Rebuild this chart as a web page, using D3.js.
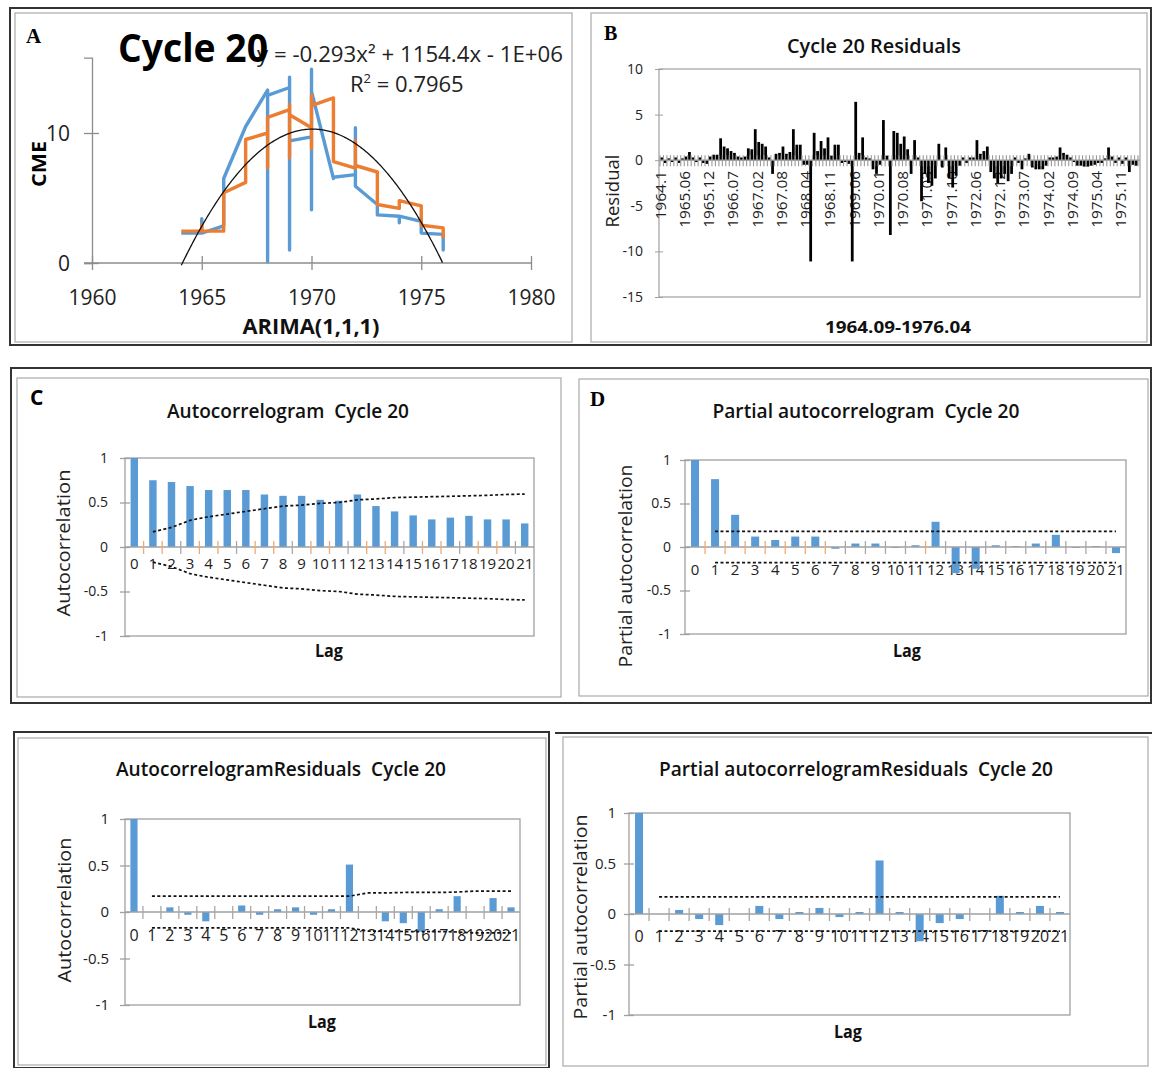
<!DOCTYPE html>
<html><head><meta charset="utf-8">
<script src="https://cdn.jsdelivr.net/npm/d3@7"></script>
<style>body{margin:0;background:#fff}svg{display:block}</style>
</head><body><script>
// ---------- DATA ----------
// Panel A : CME (observed, blue) and ARIMA(1,1,1) fit (orange), x = year
const obsX = [1964.07,1965,1965,1965,1965.9,1966,1966,1967,1968,1968,1968,1969,1969,1969,1969,1970,1970,1970,1970,1971,1971,1972,1972,1972,1973,1973,1974,1974,1974,1975,1975,1976,1976,1976];
const obsY = [2.3,2.3,3.4,2.3,2.8,2.9,6.5,10.5,13.3,0.1,12.9,13.5,14.3,1.0,9.4,9.7,14.9,4.1,13.2,6.5,6.6,6.8,10.4,5.9,4.5,3.7,3.6,3.1,3.6,3.2,2.3,2.2,1.0,1.5];
const fitX = [1964.07,1965,1965,1965,1966,1966,1967,1967,1968,1968,1968,1969,1969,1969,1969,1970,1970,1970,1970,1971,1971,1972,1972,1972,1973,1973,1974,1974,1975,1975,1976,1976];
const fitY = [2.45,2.45,2.95,2.45,2.45,5.4,6.2,9.5,10.0,7.3,11.2,11.8,12.2,8.1,11.4,10.4,8.8,12.9,12.1,12.7,7.8,7.3,9.4,7.5,7.0,4.5,4.2,4.8,4.4,2.9,2.7,1.9];
const yearTicks = [1960,1965,1970,1975,1980];
const cmeTicks = [0,10];
// polynomial trendline (vertex form of y = -0.293x^2 + 1154.4x - 1E+06)
const trendA = -0.293, trendPeakYear = 1970.05, trendPeak = 10.3, trendRange = [1964.07,1976.0];

// Panel B : residuals 1964.11 .. 1976.04 (monthly)
const residuals = [
 0.3,-0.3,0.2,-0.2,0.3,-0.3,0.2,0.4,0.9,0.3,
 -0.2,0.3,-0.3,-0.4,0.4,0.6,0.6,2.4,1.5,1.3,
 1.0,0.8,0.4,0.3,0.4,1.3,1.2,3.4,2.0,1.8,
 1.5,0.3,-1.5,0.7,0.8,1.5,0.7,0.9,3.4,1.7,
 1.7,-0.5,-0.5,-11.1,3.0,1.0,2.1,1.3,2.5,0.5,
 1.7,1.7,-0.3,-0.2,-0.4,-11.1,6.4,0.8,2.5,0.3,
 0.2,-1.0,-1.5,-0.5,4.4,0.5,-8.2,3.2,3.0,1.8,
 2.6,1.2,-1.5,2.2,0.3,-4.5,-1.5,-2.5,-2.8,-2.0,
 1.8,-0.8,1.4,-2.0,-3.0,-1.7,-0.6,0.3,-0.3,0.3,
 0.3,2.2,0.7,1.0,1.5,-1.3,-2.0,-2.5,-2.0,-1.5,
 -2.3,-1.5,0.3,-0.3,-1.0,0.2,0.7,-0.8,-1.0,-1.0,
 -1.0,-0.6,0.3,0.3,0.4,1.4,0.8,0.6,0.3,-0.2,
 -0.6,-0.6,-0.7,-0.7,-0.6,-0.5,-0.3,-0.3,0.2,1.4,
 0.4,-0.3,0.3,-0.4,0.3,-1.3,-0.5,-0.6];
const resLabels = ["1964.1","1965.06","1965.12","1966.07","1967.02","1967.08","1968.04","1968.11","1969.06","1970.01","1970.08","1971.03","1971.10","1972.06","1972.12","1973.07","1974.02","1974.09","1975.04","1975.11"];
const resLabelEvery = 7;
const resTicks = [-15,-10,-5,0,5,10];

// Panels C-F : lags 0..21
const lags = d3.range(22);
const corrTicks = [-1,-0.5,0,0.5,1];
const acfSeries = [1,0.75,0.73,0.685,0.64,0.64,0.64,0.59,0.575,0.575,0.53,0.52,0.59,0.46,0.40,0.355,0.31,0.33,0.35,0.31,0.31,0.265];
const acfBound  = [null,0.17,0.22,0.30,0.34,0.37,0.40,0.43,0.46,0.47,0.49,0.50,0.53,0.54,0.555,0.56,0.565,0.57,0.575,0.58,0.59,0.595];
const pacfSeries = [1,0.78,0.37,0.12,0.08,0.12,0.12,-0.02,0.04,0.04,-0.01,0.02,0.29,-0.30,-0.25,0.02,0.01,0.04,0.14,-0.01,0.01,-0.07];
const pacfBound  = [null,0.18,0.18,0.18,0.18,0.18,0.18,0.18,0.18,0.18,0.18,0.18,0.18,0.18,0.18,0.18,0.18,0.18,0.18,0.18,0.18,0.18];
const acfResSeries = [1,0,0.05,-0.03,-0.10,0,0.07,-0.03,0.03,0.05,-0.03,0.03,0.51,0,-0.10,-0.12,-0.21,0.03,0.17,0,0.15,0.05];
const acfResBound  = [null,0.17,0.17,0.17,0.17,0.17,0.17,0.17,0.17,0.17,0.17,0.17,0.17,0.205,0.205,0.21,0.21,0.21,0.215,0.225,0.225,0.225];
const pacfResSeries = [1,0,0.04,-0.05,-0.11,0,0.08,-0.05,0.02,0.06,-0.03,0.02,0.53,0.02,-0.27,-0.09,-0.05,0,0.18,0.02,0.08,0.02];
const pacfResBound  = [null,0.17,0.17,0.17,0.17,0.17,0.17,0.17,0.17,0.17,0.17,0.17,0.17,0.17,0.17,0.17,0.17,0.17,0.17,0.17,0.17,0.17];

// ---------- DRAWING ----------
const SANS = "'Open Sans','Liberation Sans',Arial,sans-serif";
const SERIF = "'Liberation Serif','DejaVu Serif',serif";
const BLUE = "#5b9bd5", ORANGE = "#ed7d31", GRID = "#a0a0a0";
const svg = d3.select("body").append("svg").attr("width",1152).attr("height",1068);

function txt(g, s, x, y, o = {}) {
  const t = g.append("text").attr("x", x).attr("y", y).text(s)
    .attr("font-family", o.family || SANS).attr("font-size", o.size || 14)
    .attr("font-weight", o.weight || "normal").attr("text-anchor", o.anchor || "start")
    .attr("fill", o.fill || "#000");
  if (o.len) t.attr("textLength", o.len).attr("lengthAdjust", "spacingAndGlyphs");
  if (o.rot) t.attr("transform", `rotate(${o.rot},${x},${y})`);
  return t;
}
function rect(x, y, w, h, stroke, sw) {
  svg.append("rect").attr("x", x).attr("y", y).attr("width", w).attr("height", h)
    .attr("fill", "none").attr("stroke", stroke).attr("stroke-width", sw);
}
function hline(g, x1, x2, y, stroke, sw) {
  g.append("line").attr("x1", x1).attr("x2", x2).attr("y1", y).attr("y2", y).attr("stroke", stroke).attr("stroke-width", sw || 1);
}

// frames
rect(10, 8, 1141, 337, "#333", 2);
rect(15, 13, 557, 329, "#aaa", 1.2);
rect(591, 13, 556, 329, "#aaa", 1.2);
rect(11, 368, 1140, 335, "#333", 2);
rect(17, 378, 544, 319, "#aaa", 1.2);
rect(579, 379, 569, 317, "#aaa", 1.2);
rect(14, 732, 535, 336, "#333", 2);
rect(18, 738, 528, 327, "#aaa", 1.2);
hline(svg, 555, 1152, 733, "#333", 2);
rect(563, 737, 585, 329, "#aaa", 1.2);

// ---------- Panel A ----------
{
  const g = svg.append("g");
  const x = d3.scaleLinear().domain([1960, 1980]).range([92, 531]);
  const y = d3.scaleLinear().domain([0, 15.8]).range([263, 263 - 15.8 * 13]);
  hline(g, 84, 531, y(0), "#8c8c8c", 1.3);
  const ax = g.append("g").attr("transform", `translate(0,${y(0)})`)
    .call(d3.axisBottom(x).tickValues(yearTicks).tickSize(7).tickFormat(d3.format("d")));
  ax.select(".domain").remove();
  ax.selectAll(".tick line").attr("y1", -7).attr("stroke", "#8c8c8c").attr("stroke-width", 1.3);
  ax.selectAll(".tick text").attr("y", 42).attr("dy", 0).attr("font-family", SANS).attr("font-size", 21).attr("fill", "#222");
  const ay = g.append("g").attr("transform", `translate(${x(1960)},0)`)
    .call(d3.axisLeft(y).tickValues(cmeTicks).tickSize(8));
  ay.select(".domain").attr("stroke", "#8c8c8c").attr("stroke-width", 1.3);
  ay.selectAll(".tick line").attr("x1", 7).attr("stroke", "#8c8c8c").attr("stroke-width", 1.3);
  ay.selectAll(".tick text").attr("x", -22).attr("dy", "0.36em").attr("font-family", SANS).attr("font-size", 21).attr("fill", "#222");

  const line = d3.line().x(d => x(d[0])).y(d => y(d[1]));
  g.append("path").attr("d", line(d3.zip(obsX, obsY))).attr("fill", "none")
    .attr("stroke", BLUE).attr("stroke-width", 3.4).attr("stroke-linejoin", "round");
  g.append("path").attr("d", line(d3.zip(fitX, fitY))).attr("fill", "none")
    .attr("stroke", ORANGE).attr("stroke-width", 3.4).attr("stroke-linejoin", "round");
  const tx = d3.range(trendRange[0], trendRange[1] + 0.001, 0.05);
  g.append("path").attr("d", line(tx.map(t => [t, trendA * (t - trendPeakYear) ** 2 + trendPeak])))
    .attr("fill", "none").attr("stroke", "#111").attr("stroke-width", 1.3);

  txt(g, "y = -0.293x² + 1154.4x - 1E+06", 257, 62, {size: 22, len: 306, fill: "#222"});
  txt(g, "Cycle 20", 118, 62, {size: 40, weight: "bold", len: 150});
  const r = txt(g, "R", 350, 92, {size: 22, fill: "#222"});
  r.append("tspan").attr("dy", -9).attr("font-size", 13).text("2");
  r.append("tspan").attr("dy", 9).text(" = 0.7965");
  txt(g, "A", 26, 43, {family: SERIF, size: 21, weight: "bold"});
  txt(g, "CME", 46, 164, {size: 20, weight: "bold", anchor: "middle", rot: -90, len: 46});
  txt(g, "ARIMA(1,1,1)", 311, 334, {size: 21, weight: "bold", anchor: "middle", len: 137, fill: "#111"});
}

// ---------- Panel B ----------
{
  const g = svg.append("g");
  const x = d3.scaleBand().domain(d3.range(residuals.length)).range([660, 1138]).paddingInner(0.2).paddingOuter(0.1);
  const y = d3.scaleLinear().domain([-15, 10]).range([297, 69]);
  g.append("rect").attr("x", 659).attr("y", y(10)).attr("width", 481).attr("height", y(-15) - y(10))
    .attr("fill", "none").attr("stroke", GRID).attr("stroke-width", 1.2);
  resLabels.forEach((s, k) => {
    const i = k * resLabelEvery;
    txt(g, s, x(i) + x.bandwidth() / 2 + 4, 171, {size: 14, anchor: "end", rot: -90, len: s.length * 8.1, fill: "#222"});
  });
  g.selectAll("rect.bar").data(residuals).enter().append("rect")
    .attr("x", (d, i) => x(i)).attr("width", x.bandwidth())
    .attr("y", d => y(Math.max(0, d))).attr("height", d => Math.abs(y(d) - y(0)))
    .attr("fill", "#000");
  const step = x.step();
  g.selectAll("line.ct").data(d3.range(residuals.length + 1)).enter().append("line")
    .attr("x1", i => 660 + i * step).attr("x2", i => 660 + i * step)
    .attr("y1", y(0) - 5).attr("y2", y(0) + 6).attr("stroke", "#999").attr("stroke-width", 1.1);
  hline(g, 659, 1140, y(0), "#999", 1.2);
  const ay = g.append("g").attr("transform", "translate(659,0)")
    .call(d3.axisLeft(y).tickValues(resTicks).tickSize(4).tickFormat(d => String(d)));
  ay.select(".domain").remove();
  ay.selectAll(".tick line").attr("x1", 4).attr("stroke", GRID);
  ay.selectAll(".tick text").attr("x", -16).attr("font-family", SANS).attr("font-size", 14).attr("fill", "#222");
  txt(g, "Cycle 20 Residuals", 874, 53, {size: 19, anchor: "middle", len: 174, fill: "#111", weight: 600});
  txt(g, "Residual", 619, 191, {size: 18, anchor: "middle", rot: -90, len: 73, fill: "#222"});
  txt(g, "1964.09-1976.04", 898, 333, {size: 16, weight: "bold", anchor: "middle", len: 146, fill: "#111"});
  txt(g, "B", 604, 40, {family: SERIF, size: 20, weight: "bold"});
}

// ---------- Panels C-F ----------
function corrPanel(c) {
  const g = svg.append("g");
  const x = d3.scaleBand().domain(lags).range([c.l, c.r]).paddingInner(0.6).paddingOuter(0.3);
  const y = d3.scaleLinear().domain([-1, 1]).range([c.b, c.t]);
  const y0 = y(0), step = x.step();
  g.append("rect").attr("x", c.l).attr("y", c.t).attr("width", c.r - c.l).attr("height", c.b - c.t)
    .attr("fill", "none").attr("stroke", GRID).attr("stroke-width", 1.3);
  lags.forEach(i => txt(g, String(i), x(i) + x.bandwidth() / 2, c.labelY, {size: c.lagSize, anchor: "middle", fill: "#222"}));
  g.selectAll("rect.bar").data(c.values).enter().append("rect")
    .attr("x", (d, i) => x(i)).attr("width", x.bandwidth())
    .attr("y", d => y(Math.max(0, d))).attr("height", d => Math.abs(y(d) - y(0)))
    .attr("fill", BLUE);
  hline(g, c.l, c.r, y0, GRID, 1.3);
  g.selectAll("line.ct").data(d3.range(1, 22)).enter().append("line")
    .attr("x1", i => c.l + i * step).attr("x2", i => c.l + i * step)
    .attr("y1", y0 - 6).attr("y2", y0 + 7)
    .attr("stroke", i => c.tickColor(i)).attr("stroke-width", 1.3);
  const ay = g.append("g").attr("transform", `translate(${c.l},0)`)
    .call(d3.axisLeft(y).tickValues(corrTicks).tickSize(5).tickFormat(d => String(d)));
  ay.select(".domain").remove();
  ay.selectAll(".tick line").attr("x1", 5).attr("stroke", GRID).attr("stroke-width", 1.3);
  ay.selectAll(".tick text").attr("x", -c.gap).attr("font-family", SANS).attr("font-size", c.tickSize).attr("fill", "#222");
  const line = d3.line().defined(d => d[1] != null).x(d => x(d[0]) + x.bandwidth() / 2).y(d => y(d[1]));
  [1, -1].forEach(sgn => {
    g.append("path").attr("d", line(lags.map(i => [i, c.bound[i] == null ? null : sgn * c.bound[i]])))
      .attr("fill", "none").attr("stroke", "#111").attr("stroke-width", 1.7).attr("stroke-dasharray", "3,2.4");
  });
  txt(g, c.title, c.titleX, c.titleY, {size: 19, weight: 600, anchor: "middle", len: c.titleLen, fill: "#111"})
    .style("white-space", "pre");
  txt(g, c.ytitle, c.ytX, c.ytY, {size: 19, anchor: "middle", rot: -90, len: c.ytLen, fill: "#222"});
  txt(g, "Lag", c.lagX, c.lagY, {size: 17, weight: "bold", anchor: "middle", len: 28, fill: "#111"});
  if (c.letter) txt(g, c.letter, c.letterX, c.letterY, {family: c.letterFamily, size: 21, weight: "bold"});
}
const orangeTick = "#eeaa74", grayTick = "#a8a8a8";
const NB = "\u00a0";
corrPanel({l: 125, r: 534, t: 458, b: 636, values: acfSeries, bound: acfBound, labelY: 569, lagSize: 15, tickSize: 14, gap: 17,
  tickColor: i => (i % 3 === 0 ? grayTick : orangeTick),
  title: "Autocorrelogram " + NB + "Cycle 20", titleX: 288, titleY: 418, titleLen: 242,
  ytitle: "Autocorrelation", ytX: 70, ytY: 543, ytLen: 147, lagX: 329, lagY: 657,
  letter: "C", letterX: 30, letterY: 405, letterFamily: SANS});
corrPanel({l: 685, r: 1126, t: 460, b: 634, values: pacfSeries, bound: pacfBound, labelY: 575, lagSize: 15, tickSize: 14, gap: 14,
  tickColor: i => (i <= 7 || i === 12 ? orangeTick : grayTick),
  title: "Partial autocorrelogram " + NB + "Cycle 20", titleX: 866, titleY: 418, titleLen: 307,
  ytitle: "Partial autocorrelation", ytX: 632, ytY: 566, ytLen: 203, lagX: 907, lagY: 657,
  letter: "D", letterX: 590, letterY: 406, letterFamily: SERIF});
corrPanel({l: 125, r: 520, t: 819, b: 1005, values: acfResSeries, bound: acfResBound, labelY: 941, lagSize: 16, tickSize: 15, gap: 16,
  tickColor: () => grayTick,
  title: "AutocorrelogramResiduals " + NB + "Cycle 20", titleX: 281, titleY: 776, titleLen: 330,
  ytitle: "Autocorrelation", ytX: 71, ytY: 910, ytLen: 145, lagX: 322, lagY: 1028});
corrPanel({l: 629, r: 1070, t: 813, b: 1015, values: pacfResSeries, bound: pacfResBound, labelY: 942, lagSize: 16, tickSize: 15, gap: 13,
  tickColor: () => grayTick,
  title: "Partial autocorrelogramResiduals " + NB + "Cycle 20", titleX: 856, titleY: 776, titleLen: 394,
  ytitle: "Partial autocorrelation", ytX: 587, ytY: 917, ytLen: 205, lagX: 848, lagY: 1038});
</script></body></html>
